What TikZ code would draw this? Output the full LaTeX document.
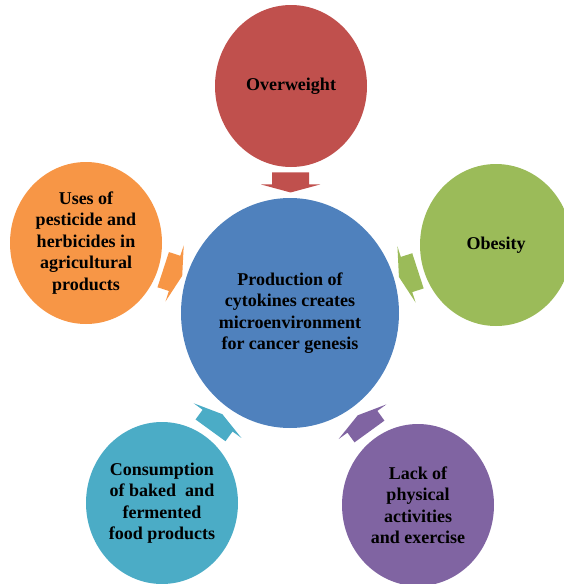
\documentclass[tikz,border=0pt]{standalone}
\usepackage{fontspec}
\setmainfont{Liberation Serif}
\usetikzlibrary{shapes.geometric,calc,positioning}
\definecolor{hubblue}{HTML}{4F81BD}
\definecolor{leafred}{HTML}{C0504D}
\definecolor{leafgreen}{HTML}{9BBB59}
\definecolor{leafpurple}{HTML}{8064A2}
\definecolor{leafteal}{HTML}{4BACC6}
\definecolor{leaforange}{HTML}{F79646}

\begin{document}
\begin{tikzpicture}[
  x=1pt, y=-1pt,
  hub/.style={ellipse, fill=hubblue, minimum width=218pt, minimum height=230pt, inner sep=0pt, align=center, font=\bfseries\fontsize{18}{21.5}\selectfont},
  leaf/.style={ellipse, minimum width=152pt, minimum height=162pt, inner sep=0pt, align=center, font=\bfseries\fontsize{18}{21.5}\selectfont},
  spoke/.pic={\path[pic actions] (-10,-18.5) -- (2,-18.5) -- (2,-29.5) -- (10,0) -- (2,29.5) -- (2,18.5) -- (-10,18.5) -- cycle;}
]
\useasboundingbox (0,0) rectangle (563,584);

\node[hub] (cyto) at (290,313) {Production of\\cytokines creates\\microenvironment\\for cancer genesis};

\node[leaf, fill=leafred] (weight) at (291,86) {Overweight};
\node[leaf, fill=leafgreen] (obese) at (496,245) {Obesity};
\node[leaf, fill=leafpurple] (lack) at (418,505) {Lack of\\physical\\activities\\and exercise};
\node[leaf, fill=leafteal] (baked) at (162,503) {Consumption\\of baked\ \ and\\fermented\\food products};
\node[leaf, fill=leaforange] (pest) at (86,243) {Uses of\\pesticide and\\herbicides in\\agricultural\\products};

% block arrows pointing in to the hub
\pic[fill=leafred, rotate=-90] at ($(cyto)!0.575!(weight)$) {spoke};
\pic[fill=leafgreen, rotate=198] at ($(cyto)!0.575!(obese)$) {spoke};
\pic[fill=leafpurple, rotate=126] at ($(cyto)!0.575!(lack)$) {spoke};
\pic[fill=leafteal, rotate=54] at ($(cyto)!0.575!(baked)$) {spoke};
\pic[fill=leaforange, rotate=-18] at ($(cyto)!0.575!(pest)$) {spoke};
\end{tikzpicture}
\end{document}
